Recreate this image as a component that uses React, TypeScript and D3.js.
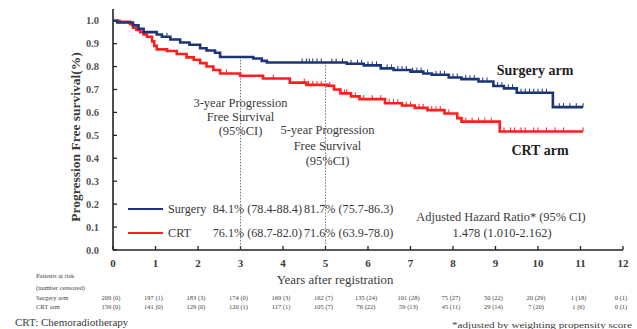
import React from "react";
import * as d3 from "d3";

const W = 637;
const H = 329;

// Kaplan-Meier steps
const surgeryTimes = [0, 0.1, 0.47, 0.6, 0.72, 1.03, 1.15, 1.35, 1.58, 1.8, 2.05, 2.2, 2.4, 2.52, 3.3, 3.5, 3.62, 5.5, 5.9, 6.3, 6.6, 7.0, 7.3, 7.5, 7.9, 8.2, 8.6, 8.95, 9.2, 9.5, 10.35, 11.06];
const surgerySurv = [1.0, 0.992, 0.98, 0.965, 0.95, 0.94, 0.93, 0.918, 0.905, 0.895, 0.88, 0.87, 0.86, 0.842, 0.835, 0.825, 0.818, 0.812, 0.805, 0.792, 0.785, 0.778, 0.77, 0.764, 0.752, 0.745, 0.735, 0.715, 0.705, 0.686, 0.623, 0.623];

const crtTimes = [0, 0.15, 0.4, 0.47, 0.55, 0.64, 0.72, 0.8, 0.92, 0.97, 1.03, 1.27, 1.5, 1.73, 1.9, 2.05, 2.2, 2.36, 2.52, 2.99, 3.53, 4.16, 4.55, 5.05, 5.2, 5.35, 5.6, 5.8, 6.4, 6.8, 7.1, 7.4, 7.8, 8.1, 8.2, 9.1, 11.06];
const crtSurv = [1.0, 0.995, 0.985, 0.97, 0.96, 0.95, 0.94, 0.93, 0.91, 0.89, 0.875, 0.868, 0.855, 0.84, 0.83, 0.815, 0.8, 0.785, 0.77, 0.76, 0.748, 0.73, 0.72, 0.716, 0.7, 0.683, 0.67, 0.658, 0.64, 0.63, 0.62, 0.61, 0.595, 0.575, 0.56, 0.517, 0.517];

const surgeryCensor = [1.27, 4.45, 4.55, 4.62, 4.7, 4.8, 4.9, 5.15, 5.25, 5.4, 5.6, 5.75, 5.85, 6.0, 6.1, 6.2, 6.45, 6.55, 6.7, 6.8, 6.9, 7.05, 7.15, 7.25, 7.4, 7.6, 7.7, 7.8, 8.0, 8.1, 8.3, 8.4, 8.5, 8.7, 8.8, 9.05, 9.15, 9.3, 9.4, 9.6, 9.7, 9.8, 9.9, 10.0, 10.1, 10.2, 10.5, 10.6, 10.75, 10.9, 11.06];
const crtCensor = [2.67, 3.77, 4.5, 4.6, 4.7, 4.8, 4.9, 5.1, 5.45, 5.5, 5.7, 5.9, 6.1, 6.3, 6.5, 6.6, 6.7, 6.9, 7.0, 7.2, 7.3, 7.5, 7.6, 7.7, 7.9, 8.3, 8.45, 8.6, 8.75, 8.9, 9.2, 9.35, 9.45, 9.6, 9.7, 9.9, 10.0, 10.2, 10.4, 10.6, 11.06];

const xTicks = d3.range(0, 13);
const yTicks = d3.range(0, 11).map((d) => d / 10);

const riskYears = d3.range(0, 13);
const surgeryRisk = ["209 (0)", "197 (1)", "183 (3)", "174 (0)", "169 (3)", "162 (7)", "135 (24)", "101 (28)", "75 (27)", "50 (22)", "20 (29)", "1 (18)", "0 (1)"];
const crtRisk = ["159 (0)", "141 (0)", "129 (0)", "120 (1)", "117 (1)", "105 (7)", "76 (22)", "59 (13)", "45 (11)", "29 (14)", "7 (20)", "1 (6)", "0 (1)"];

const BLUE = "#1c3577";
const RED = "#ff1e1e";
const TXT = "#3a3a3a";
const FONT = "'Liberation Serif', 'Times New Roman', serif";

const x = d3.scaleLinear().domain([0, 12]).range([113, 623]);
const y = d3.scaleLinear().domain([0, 1]).range([250, 20.7]);

const stepLine = d3
  .line<[number, number]>()
  .x((d) => x(d[0]))
  .y((d) => y(d[1]))
  .curve(d3.curveStepAfter);

const survAt = (times: number[], surv: number[], t: number) => {
  const i = d3.bisectRight(times, t) - 1;
  return surv[Math.max(0, Math.min(i, surv.length - 1))];
};

export default function App() {
  const surgeryPts = surgeryTimes.map((t, i) => [t, surgerySurv[i]] as [number, number]);
  const crtPts = crtTimes.map((t, i) => [t, crtSurv[i]] as [number, number]);

  return (
    <svg width={W} height={H} style={{ position: "absolute", left: 0, top: 0, background: "#fff" }} fontFamily={FONT}>
      {/* y axis title */}
      <text
        transform={`translate(80,137) rotate(-90)`}
        textAnchor="middle"
        fontSize={13.5}
        fontWeight="bold"
        fill={TXT}
      >
        Progression Free survival(%)
      </text>

      {/* y ticks */}
      {yTicks.map((v) => (
        <g key={"y" + v}>
          <line x1={x(0)} x2={x(0) + 4} y1={y(v)} y2={y(v)} stroke="#222" strokeWidth={1.3} />
          <text x={99} y={y(v)} dy="0.35em" textAnchor="end" fontSize={10.5} fontWeight="bold" fill="#555">
            {v.toFixed(1)}
          </text>
        </g>
      ))}

      {/* x ticks */}
      {xTicks.map((v) => (
        <g key={"x" + v}>
          <line x1={x(v)} x2={x(v)} y1={y(0)} y2={y(0) - 4} stroke="#222" strokeWidth={1.3} />
          <text x={x(v)} y={267} textAnchor="middle" fontSize={11} fontWeight="bold" fill={TXT}>
            {v}
          </text>
        </g>
      ))}

      {/* axes */}
      <line x1={x(0)} x2={x(0)} y1={9} y2={y(0)} stroke="#222" strokeWidth={1.6} />
      <line x1={x(0)} x2={x(12)} y1={y(0)} y2={y(0)} stroke="#222" strokeWidth={1.6} />

      {/* dotted reference lines */}
      <line x1={x(3)} x2={x(3)} y1={y(survAt(surgeryTimes, surgerySurv, 3))} y2={y(0)} stroke="#555" strokeWidth={0.8} strokeDasharray="1.5,1.5" />
      <line x1={x(5)} x2={x(5)} y1={y(survAt(surgeryTimes, surgerySurv, 5))} y2={y(0)} stroke="#555" strokeWidth={0.8} strokeDasharray="1.5,1.5" />

      {/* curves */}
      <path d={stepLine(crtPts) || ""} fill="none" stroke={RED} strokeWidth={2.6} />
      <path d={stepLine(surgeryPts) || ""} fill="none" stroke={BLUE} strokeWidth={2.6} />

      {/* censor marks */}
      {crtCensor.map((t, i) => {
        const yy = y(survAt(crtTimes, crtSurv, t));
        return <line key={"cc" + i} x1={x(t)} x2={x(t)} y1={yy - 4} y2={yy} stroke={RED} strokeWidth={1} />;
      })}
      {surgeryCensor.map((t, i) => {
        const yy = y(survAt(surgeryTimes, surgerySurv, t));
        return <line key={"sc" + i} x1={x(t)} x2={x(t)} y1={yy - 4} y2={yy} stroke={BLUE} strokeWidth={1} />;
      })}

      {/* arm labels */}
      <text x={535} y={75} textAnchor="middle" fontSize={14} fontWeight="bold" fill="#222">Surgery arm</text>
      <text x={540} y={155} textAnchor="middle" fontSize={14} fontWeight="bold" fill="#222">CRT arm</text>

      {/* annotations */}
      <g fontSize={12.5} fill={TXT} textAnchor="middle">
        <text x={x(3)} y={107}>3-year Progression</text>
        <text x={x(3)} y={121}>Free Survival</text>
        <text x={x(3)} y={135}>(95%CI)</text>
        <text x={x(5) + 2} y={134}>5-year Progression</text>
        <text x={x(5) + 2} y={149.5}>Free Survival</text>
        <text x={x(5) + 2} y={165}>(95%CI)</text>
      </g>

      {/* legend */}
      <line x1={128} x2={163} y1={209} y2={209} stroke={BLUE} strokeWidth={1.8} />
      <line x1={128} x2={163} y1={233} y2={233} stroke={RED} strokeWidth={1.8} />
      <g fontSize={12.2} fill={TXT}>
        <text x={168} y={213}>Surgery</text>
        <text x={168} y={237}>CRT</text>
        <text x={302} y={213} textAnchor="end">84.1% (78.4-88.4)</text>
        <text x={302} y={237} textAnchor="end">76.1% (68.7-82.0)</text>
        <text x={304} y={213}>81.7% (75.7-86.3)</text>
        <text x={304} y={237}>71.6% (63.9-78.0)</text>
      </g>
      <g fontSize={12.4} fill={TXT} textAnchor="middle">
        <text x={501} y={221}>Adjusted Hazard Ratio* (95% CI)</text>
        <text x={502} y={237}>1.478 (1.010-2.162)</text>
      </g>

      {/* x axis title */}
      <text x={335} y={284} textAnchor="middle" fontSize={12.8} fill={TXT}>Years after registration</text>

      {/* risk table */}
      <g fontSize={6.5} fill="#444">
        <text x={36} y={278}>Patients  at risk</text>
        <text x={36} y={290}>(number  censored)</text>
        <text x={36} y={300}>Surgery arm</text>
        <text x={36} y={309}>CRT arm</text>
        {riskYears.map((t, i) => (
          <g key={"r" + t} textAnchor="middle">
            <text x={x(t) - 2} y={300}>{surgeryRisk[i]}</text>
            <text x={x(t) - 2} y={309}>{crtRisk[i]}</text>
          </g>
        ))}
      </g>
      <text x={15} y={326} fontSize={11} fill={TXT}>CRT: Chemoradiotherapy</text>
      <text x={452} y={328} fontSize={8.5} fill={TXT} textLength={180} lengthAdjust="spacingAndGlyphs">*adjusted by weighting  propensity score</text>
    </svg>
  );
}
